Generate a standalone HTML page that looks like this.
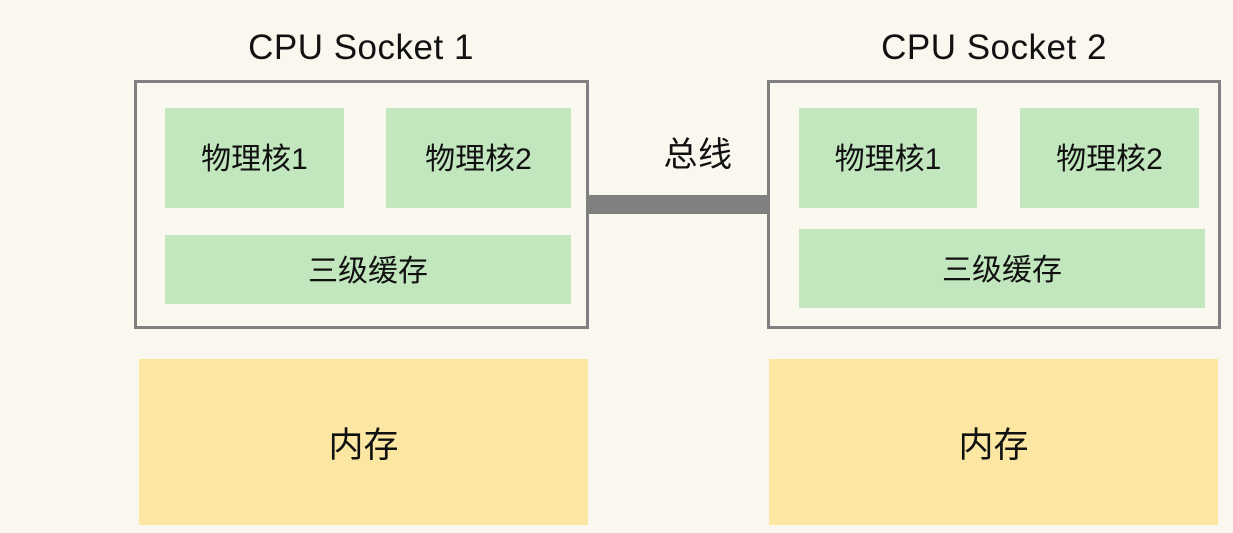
<!DOCTYPE html>
<html><head><style>
body{margin:0;width:1233px;height:533px;background:#faf7ee;position:relative;overflow:hidden;font-family:"Liberation Sans","Noto Sans CJK SC",sans-serif;color:#111}
div{position:absolute;box-sizing:border-box}
.t{font-size:35px;text-align:center;line-height:40px;letter-spacing:0.5px}
.box{border:3px solid #808080}
.g{background:#c2e6bd;display:flex;align-items:center;justify-content:center;font-size:30px;padding-bottom:4px}
.m{background:#fbe6a2;display:flex;align-items:center;justify-content:center;font-size:35px}
</style></head><body>
<div class="t" style="left:134px;width:454px;top:28px">CPU Socket 1</div>
<div class="t" style="left:768px;width:452px;top:28px">CPU Socket 2</div>
<div class="box" style="left:134px;top:80px;width:455px;height:249px"></div>
<div class="box" style="left:767px;top:80px;width:454px;height:249px"></div>
<div style="left:588px;top:195px;width:181px;height:19px;background:#808080"></div>
<div class="t" style="left:598px;width:200px;top:135px;font-size:34px">总线</div>
<div class="g" style="left:165px;top:108px;width:179px;height:100px">物理核1</div>
<div class="g" style="left:386px;top:108px;width:185px;height:100px">物理核2</div>
<div class="g" style="left:165px;top:235px;width:406px;height:69px">三级缓存</div>
<div class="g" style="left:799px;top:108px;width:178px;height:100px">物理核1</div>
<div class="g" style="left:1020px;top:108px;width:179px;height:100px">物理核2</div>
<div class="g" style="left:799px;top:229px;width:406px;height:79px">三级缓存</div>
<div class="m" style="left:139px;top:359px;width:449px;height:166px">内存</div>
<div class="m" style="left:769px;top:359px;width:449px;height:166px">内存</div>
</body></html>
